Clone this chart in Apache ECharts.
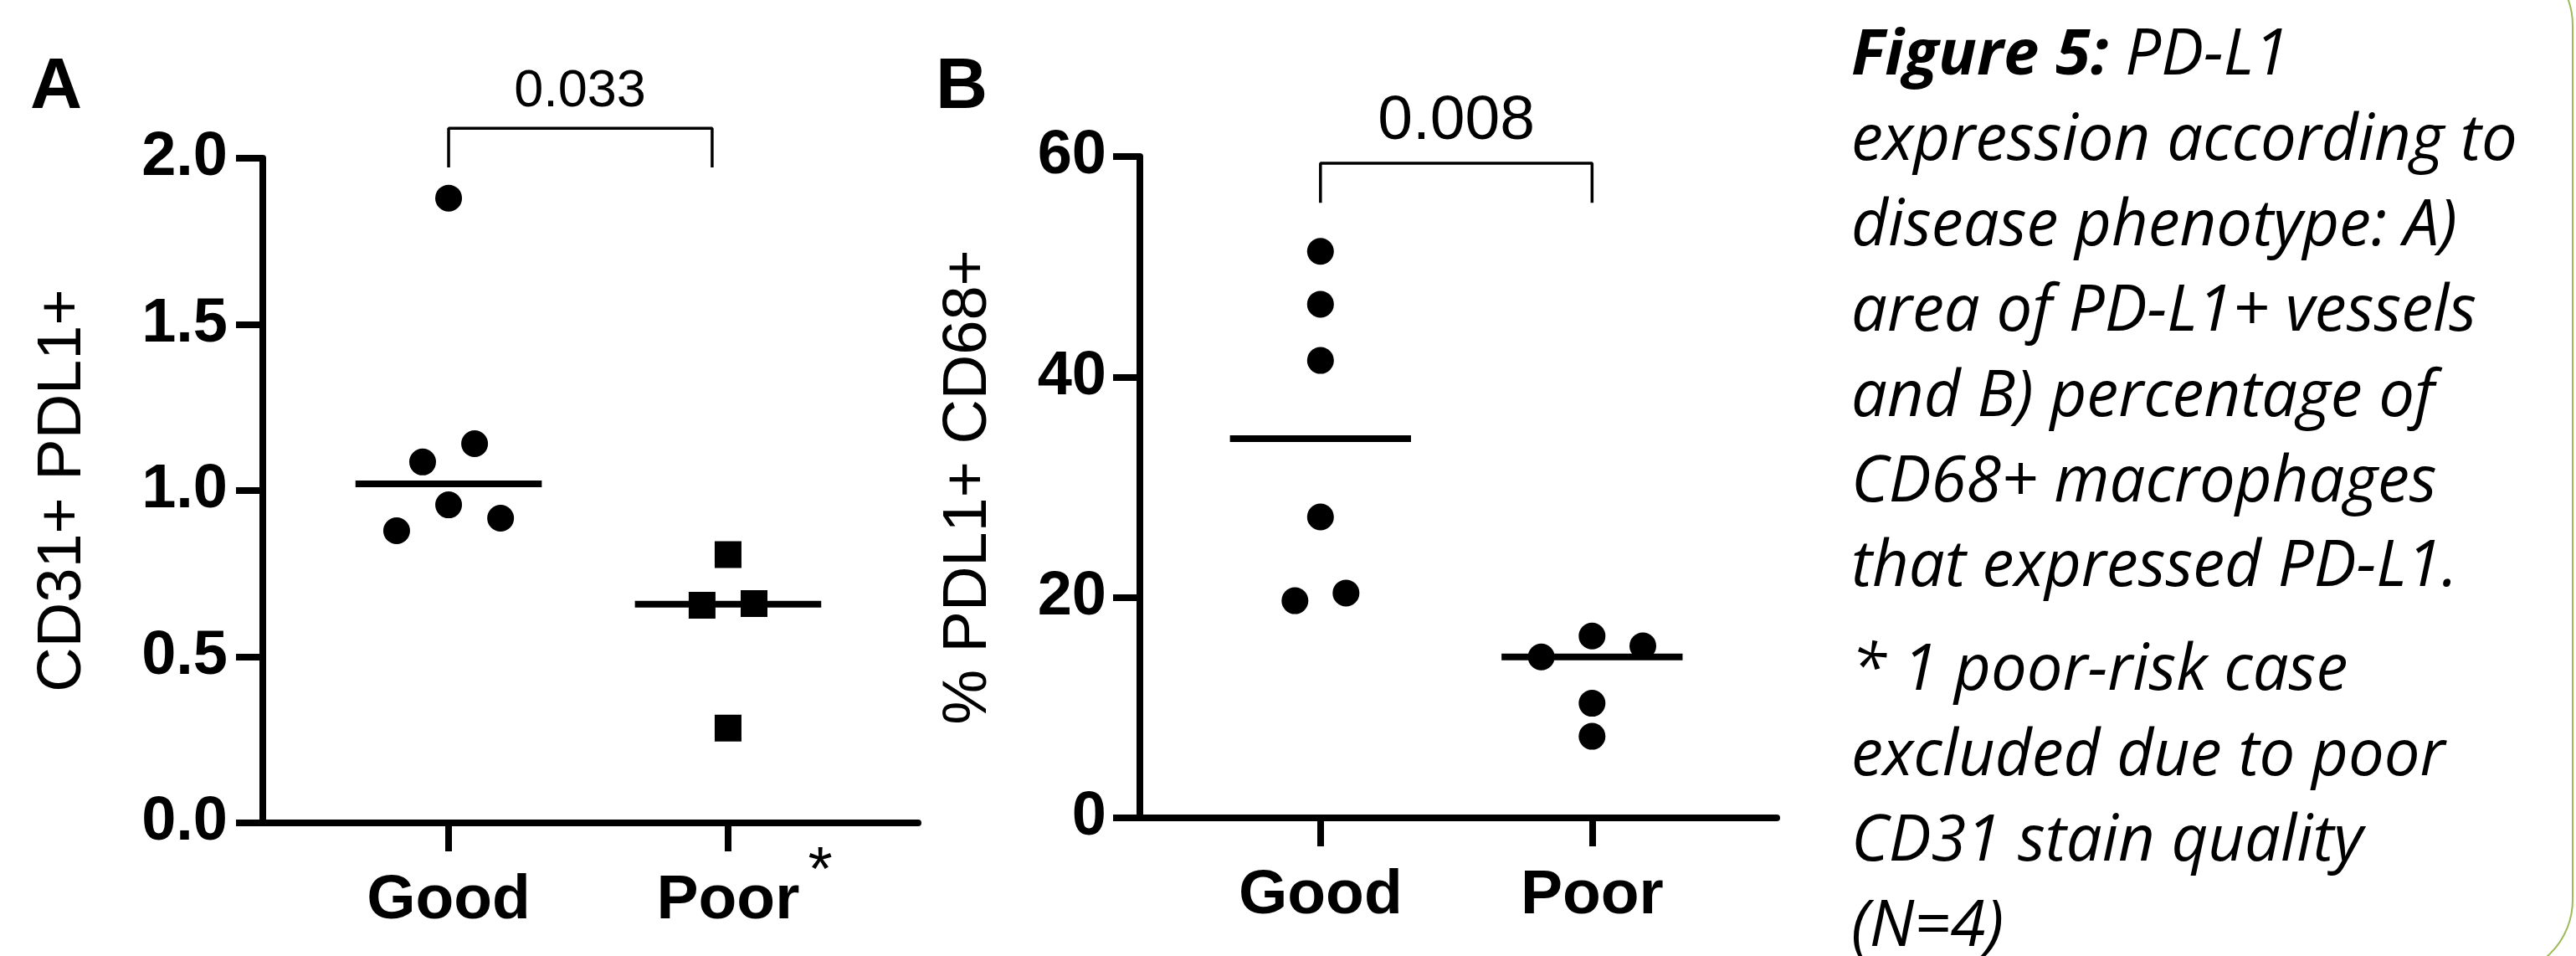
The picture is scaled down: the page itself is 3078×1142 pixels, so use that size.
<!DOCTYPE html>
<html>
<head>
<meta charset="utf-8">
<script src="https://cdn.jsdelivr.net/npm/echarts@6/dist/echarts.min.js"></script>
<style>
  html, body { margin: 0; padding: 0; background: #fff; }
  #main { width: 3078px; height: 1142px; }
</style>
</head>
<body>
<div id="main"></div>
<script>
// categories on the x axis (1 = Good, 2 = Poor)
const categories = ['Good', 'Poor'];

// panel A: CD31+ PDL1+ area
const goodA = [1.88, 1.086, 1.141, 0.957, 0.879, 0.917];
const goodAJitter = [0, -0.093, 0.093, 0, -0.186, 0.186];
const poorA = [0.807, 0.655, 0.66, 0.285];
const poorAJitter = [0, -0.093, 0.093, 0];
const medianA = [1.02, 0.658];
const pValueA = '0.033';

// panel B: % PDL1+ CD68+
const goodB = [51.4, 46.6, 41.5, 27.3, 19.7, 20.4];
const goodBJitter = [0, 0, 0, 0, -0.094, 0.094];
const poorB = [14.6, 16.5, 15.6, 10.4, 7.4];
const poorBJitter = [-0.187, 0, 0.187, 0, 0];
const medianB = [34.4, 14.6];
const pValueB = '0.008';

// caption
const captionLines = [
  '{b|Figure 5:} PD-L1',
  'expression according to',
  'disease phenotype: A)',
  'area of PD-L1+ vessels',
  'and B) percentage of',
  'CD68+ macrophages',
  'that expressed PD-L1.',
  '* 1 poor-risk case',
  'excluded due to poor',
  'CD31 stain quality',
  '(N=4)'
];

const FONT = '"Liberation Sans", Arial, sans-serif';

let mychart = echarts.init(document.getElementById('main'));

const toPoints = (vals, jitter, cat) => vals.map((v, i) => [cat + jitter[i], v]);

const xAxisBase = (idx) => ({
  type: 'value',
  gridIndex: idx,
  min: 0.335,
  max: 2.68,
  axisLine: { show: true, lineStyle: { color: '#000', width: 8 } },
  axisTick: { show: true, customValues: [1, 2], length: 34, lineStyle: { color: '#000', width: 8 } },
  axisLabel: {
    customValues: [1, 2],
    margin: idx === 0 ? 56 : 56,
    fontSize: 75,
    fontWeight: 'bold',
    fontFamily: FONT,
    color: '#000',
    formatter: v => categories[Math.round(v) - 1] || ''
  },
  splitLine: { show: false }
});

const yAxisBase = (idx, max, interval, name, gap, digits) => ({
  type: 'value',
  gridIndex: idx,
  min: 0,
  max: max,
  interval: interval,
  name: name,
  nameLocation: 'middle',
  nameRotate: 90,
  nameGap: gap,
  nameTextStyle: { fontSize: 74, fontFamily: FONT, color: '#000' },
  axisLine: { show: true, lineStyle: { color: '#000', width: 8 } },
  axisTick: { show: true, length: 32, lineStyle: { color: '#000', width: 8 } },
  axisLabel: {
    margin: idx === 0 ? 42 : 40,
    fontSize: 74,
    fontWeight: 'bold',
    fontFamily: FONT,
    color: '#000',
    formatter: v => v.toFixed(digits)
  },
  splitLine: { show: false }
});

const dots = (data, idx, symbol) => ({
  type: 'scatter',
  xAxisIndex: idx,
  yAxisIndex: idx,
  symbol: symbol,
  symbolSize: 32,
  itemStyle: { color: '#000', opacity: 1 },
  data: data,
  z: 3
});

const medianLine = (value, cat, idx) => ({
  type: 'line',
  xAxisIndex: idx,
  yAxisIndex: idx,
  showSymbol: false,
  lineStyle: { color: '#000', width: 8 },
  data: [[cat - 1 / 3, value], [cat + 1 / 3, value]],
  z: 2
});

const bracket = (idx, x1, x2, yLow, yHigh) => ({
  type: 'line',
  xAxisIndex: idx,
  yAxisIndex: idx,
  showSymbol: false,
  clip: false,
  lineStyle: { color: '#000', width: 3.5 },
  data: [[x1, yLow], [x1, yHigh], [x2, yHigh], [x2, yLow]]
});

// free text anchored in data space (p-values, footnote star)
const textMark = (idx, x, y, text, size) => ({
  type: 'scatter',
  xAxisIndex: idx,
  yAxisIndex: idx,
  symbolSize: 0,
  clip: false,
  itemStyle: { opacity: 1 },
  label: {
    show: true,
    position: 'inside',
    formatter: text,
    fontSize: size,
    fontFamily: FONT,
    color: '#000',
    opacity: 1
  },
  data: [[x, y]]
});

const captionBaselines = [95, 197, 299, 401, 503, 605, 706, 830, 932, 1034, 1136];
const CAP_SIZE = 76;

var option = {
  backgroundColor: '#fff',
  animation: false,
  grid: [
    { left: 314, top: 189, width: 783, height: 794 },
    { left: 1362, top: 187, width: 761, height: 790 }
  ],
  xAxis: [xAxisBase(0), xAxisBase(1)],
  yAxis: [
    yAxisBase(0, 2, 0.5, 'CD31+ PDL1+', 201, 1),
    yAxisBase(1, 60, 20, '% PDL1+ CD68+', 167, 0)
  ],
  series: [
    dots(toPoints(goodA, goodAJitter, 1), 0, 'circle'),
    dots(toPoints(poorA, poorAJitter, 2), 0, 'rect'),
    medianLine(medianA[0], 1, 0),
    medianLine(medianA[1], 2, 0),
    bracket(0, 1, 1.943, 1.972, 2.09),
    textMark(0, 1.47, 2.2, pValueA, 63),
    textMark(0, 2.33, -0.15, '*', 75),
    dots(toPoints(goodB, goodBJitter, 1), 1, 'circle'),
    dots(toPoints(poorB, poorBJitter, 2), 1, 'circle'),
    medianLine(medianB[0], 1, 1),
    medianLine(medianB[1], 2, 1),
    bracket(1, 1, 2, 55.8, 59.4),
    textMark(1, 1.5, 63.2, pValueB, 75)
  ],
  graphic: [
    { type: 'text', left: 36, top: 62, style: { text: 'A', fontSize: 86, fontWeight: 'bold', fontFamily: FONT, fill: '#000' } },
    { type: 'text', left: 1118, top: 62, style: { text: 'B', fontSize: 86, fontWeight: 'bold', fontFamily: FONT, fill: '#000' } },
    {
      type: 'rect',
      shape: { x: -60, y: -60, width: 3134, height: 1225, r: 90 },
      style: { fill: 'none', stroke: '#9bbb59', lineWidth: 2 },
      silent: true
    }
  ].concat(captionLines.map((t, i) => ({
    type: 'text',
    x: 2212,
    y: captionBaselines[i] - CAP_SIZE * 0.36,
    style: {
      text: t,
      fontSize: CAP_SIZE,
      fontStyle: 'italic',
      fontFamily: '"Open Sans", sans-serif',
      fill: '#000',
      verticalAlign: 'middle',
      rich: {
        b: { fontSize: CAP_SIZE, fontStyle: 'italic', fontWeight: 'bold', fontFamily: '"Open Sans", sans-serif', fill: '#000' }
      }
    }
  })))
};

mychart.setOption(option);

window.addEventListener('resize', () => {
  mychart.resize();
});
</script>
</body>
</html>
